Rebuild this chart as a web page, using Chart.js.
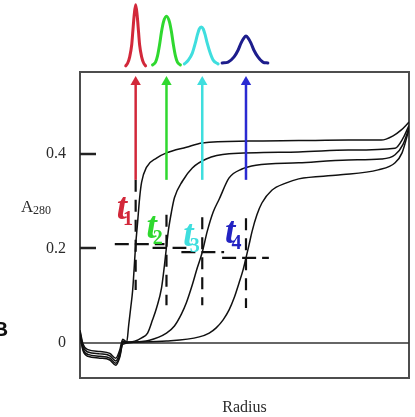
<!DOCTYPE html>
<html>
<head>
<meta charset="utf-8">
<script src="https://cdn.jsdelivr.net/npm/chart.js@4"></script>
<style>
body { margin: 0; background: #fff; }
#wrap { width: 415px; height: 417px; }
</style>
</head>
<body>
<div id="wrap"><canvas id="sedChart" width="415" height="417"></canvas></div>
<script>
// y axis tick labels (A280)
const yTicks = [0, 0.2, 0.4];

// boundary curves, radius in arbitrary units, absorbance A280
const radius1 = [0, 3, 8, 20, 30, 36, 40, 43, 47, 49, 51, 53, 56, 58, 60, 62, 67, 77, 87, 107, 123, 170, 220, 270, 303, 315, 323, 331];
const absorb1 = [0.027, -0.002, -0.014, -0.018, -0.022, -0.032, -0.015, 0.008, 0.002, 0.038, 0.074, 0.112, 0.207, 0.256, 0.307, 0.340, 0.372, 0.391, 0.402, 0.414, 0.423, 0.427, 0.428, 0.429, 0.429, 0.438, 0.450, 0.467];

const radius2 = [0, 3, 8, 20, 30, 36, 40, 43, 47, 55, 62, 68, 73, 77, 82, 85, 87, 89, 92, 95, 103, 113, 127, 150, 220, 270, 317, 325, 331];
const absorb2 = [0.024, -0.007, -0.019, -0.023, -0.027, -0.038, -0.021, 0.004, 0.002, 0.004, 0.011, 0.021, 0.049, 0.074, 0.116, 0.165, 0.203, 0.239, 0.277, 0.307, 0.342, 0.370, 0.389, 0.400, 0.404, 0.408, 0.412, 0.433, 0.460];

const radius3 = [0, 3, 8, 20, 30, 36, 40, 43, 50, 70, 87, 95, 102, 107, 113, 118, 123, 128, 134, 140, 150, 163, 177, 220, 270, 303, 317, 325, 331];
const absorb3 = [0.020, -0.012, -0.024, -0.028, -0.032, -0.043, -0.027, 0.000, 0.002, 0.006, 0.021, 0.036, 0.061, 0.085, 0.123, 0.159, 0.192, 0.236, 0.277, 0.304, 0.349, 0.368, 0.376, 0.381, 0.387, 0.389, 0.398, 0.420, 0.455];

const radius4 = [0, 3, 8, 20, 30, 36, 40, 43, 60, 87, 120, 130, 137, 144, 150, 155, 160, 164, 167, 170, 173, 178, 183, 193, 207, 220, 260, 300, 317, 324, 331];
const absorb4 = [0.016, -0.016, -0.028, -0.032, -0.036, -0.047, -0.030, -0.003, 0.002, 0.004, 0.013, 0.021, 0.032, 0.049, 0.070, 0.095, 0.127, 0.154, 0.180, 0.207, 0.235, 0.271, 0.296, 0.323, 0.338, 0.347, 0.355, 0.366, 0.381, 0.402, 0.452];

// sedimentation coefficient peaks drawn above the plot
const peakX1 = [46, 48, 50, 52, 53, 54.5, 56, 57.5, 59, 60, 62, 64, 66];
const peakY1 = [0.586, 0.592, 0.605, 0.630, 0.655, 0.693, 0.715, 0.693, 0.655, 0.630, 0.605, 0.592, 0.586];
const peakX2 = [73, 76, 78, 80, 82, 84, 87, 90, 92, 94, 96, 98, 101];
const peakY2 = [0.588, 0.594, 0.607, 0.630, 0.658, 0.679, 0.691, 0.679, 0.658, 0.630, 0.607, 0.594, 0.588];
const peakX3 = [105, 109, 113, 116, 118, 120, 122, 124, 126, 128, 131, 134, 139];
const peakY3 = [0.590, 0.598, 0.613, 0.634, 0.651, 0.664, 0.668, 0.664, 0.651, 0.634, 0.613, 0.598, 0.590];
const peakX4 = [143, 149, 155, 159, 162, 165, 167, 169, 172, 175, 179, 184, 189];
const peakY4 = [0.592, 0.594, 0.605, 0.619, 0.634, 0.645, 0.649, 0.645, 0.634, 0.619, 0.605, 0.594, 0.592];

// boundary midpoints t1..t4
const tNames = ['1', '2', '3', '4'];
const tRadius = [56, 87, 123, 167];
const tMidA = [0.209, 0.201, 0.192, 0.180];
const crossFrom = [35, 73, 102, 143];
const crossTo = [85, 107, 145, 190];
const dashTop = [0.345, 0.271, 0.266, 0.264];
const dashBottom = [0.112, 0.080, 0.080, 0.074];
const arrowFrom = 0.345;
const arrowTo = 0.552;

const tColors = ['#d2283a', '#2fd82f', '#3fdede', '#2a2ad2'];
const peakColors = ['#d2283a', '#2fd82f', '#3fdede', '#1d1d8c'];
const labelColors = ['#d2283a', '#2fd82f', '#3fdede', '#2323c2'];
// label anchors (radius, A280)
const labelX = [37, 67, 104, 146];
const labelY = [0.262, 0.222, 0.205, 0.211];

const pts = (xs, ys) => xs.map((v, i) => ({ x: v, y: ys[i] }));

let datasets = [];

datasets.push({
	data: [{ x: 0, y: 0 }, { x: 331, y: 0 }],
	borderColor: '#333', borderWidth: 1.5, pointRadius: 0, order: 4
});

[[radius1, absorb1], [radius2, absorb2], [radius3, absorb3], [radius4, absorb4]].forEach(([xs, ys]) => {
	datasets.push({
		data: pts(xs, ys),
		borderColor: '#111', borderWidth: 1.5, pointRadius: 0,
		cubicInterpolationMode: 'monotone', order: 3
	});
});

[[peakX1, peakY1], [peakX2, peakY2], [peakX3, peakY3], [peakX4, peakY4]].forEach(([xs, ys], i) => {
	datasets.push({
		data: pts(xs, ys),
		borderColor: peakColors[i], borderWidth: 3, pointRadius: 0,
		borderCapStyle: 'round', cubicInterpolationMode: 'monotone',
		clip: false, order: 1
	});
});

tRadius.forEach((r, i) => {
	// vertical dashed
	datasets.push({
		data: [{ x: r, y: dashTop[i] }, { x: r, y: dashBottom[i] }],
		borderColor: '#111', borderWidth: 2.2, borderDash: [12, 8], pointRadius: 0, order: 2
	});
	// horizontal dashed
	datasets.push({
		data: [{ x: crossFrom[i], y: tMidA[i] }, { x: crossTo[i], y: tMidA[i] }],
		borderColor: '#111', borderWidth: 2.2, borderDash: [14, 6], pointRadius: 0, order: 2
	});
	// arrow
	datasets.push({
		data: [{ x: r, y: arrowFrom }, { x: r, y: arrowTo }],
		borderColor: tColors[i], borderWidth: 2.5,
		pointRadius: [0, 6], pointStyle: 'triangle',
		pointBackgroundColor: tColors[i], pointBorderColor: tColors[i], pointBorderWidth: 0,
		clip: false, order: 0
	});
});

datasets.forEach((d) => { d.xAxisID = 'x'; d.yAxisID = 'y'; d.fill = false; });

const annotate = {
	id: 'annotate',
	afterDatasetsDraw(chart) {
		const { ctx, chartArea, scales: { x, y } } = chart;
		ctx.save();
		// inner tick marks
		ctx.strokeStyle = '#222';
		ctx.lineWidth = 2.5;
		yTicks.filter((v) => v !== 0).forEach((v) => {
			const py = Math.round(y.getPixelForValue(v));
			ctx.beginPath();
			ctx.moveTo(chartArea.left, py);
			ctx.lineTo(chartArea.left + 16, py);
			ctx.stroke();
		});
		// t labels
		ctx.textBaseline = 'alphabetic';
		tNames.forEach((n, i) => {
			const px = x.getPixelForValue(labelX[i]);
			const py = y.getPixelForValue(labelY[i]);
			ctx.fillStyle = labelColors[i];
			ctx.font = 'italic bold 37px "Liberation Serif"';
			ctx.fillText('t', px, py);
			const w = ctx.measureText('t').width;
			ctx.font = 'bold 20px "Liberation Serif"';
			ctx.fillText(n, px + w - 4, py + 6);
		});
		// y axis title A280
		ctx.fillStyle = '#2b2b2b';
		ctx.font = '17px "Liberation Serif"';
		ctx.fillText('A', 21, 212);
		ctx.font = '12px "Liberation Serif"';
		ctx.fillText('280', 33, 214);
		// cut-off panel letter
		ctx.fillStyle = '#111';
		ctx.font = 'bold 21px "Liberation Sans"';
		ctx.fillText('B', -7, 336);
		ctx.restore();
	}
};

const boxBorder = { display: true, color: '#4d4d4d', width: 2 };

new Chart(document.getElementById('sedChart').getContext('2d'), {
	type: 'line',
	data: { datasets: datasets },
	options: {
		responsive: false,
		devicePixelRatio: 1,
		animation: false,
		layout: { padding: 0 },
		plugins: { legend: { display: false }, tooltip: { enabled: false } },
		scales: {
			x: {
				type: 'linear', position: 'bottom', min: 0, max: 331,
				ticks: { display: false },
				grid: { display: false, drawTicks: false },
				border: boxBorder,
				title: {
					display: true, text: 'Radius', color: '#2b2b2b', padding: 0,
					font: { family: 'Liberation Serif', size: 16 }
				},
				afterFit: (s) => { s.height = 39; }
			},
			y: {
				type: 'linear', position: 'left', min: -0.074, max: 0.573,
				afterBuildTicks: (axis) => { axis.ticks = yTicks.map((v) => ({ value: v })); },
				ticks: {
					padding: 14, color: '#2b2b2b',
					font: { family: 'Liberation Serif', size: 16 },
					callback: (v) => (v === 0 ? '0' : v.toFixed(1))
				},
				grid: { display: false, drawTicks: false },
				border: boxBorder,
				afterFit: (s) => { s.width = 80; }
			},
			xTop: {
				type: 'linear', position: 'top', axis: 'x',
				ticks: { display: false },
				grid: { display: false, drawTicks: false },
				border: boxBorder,
				afterFit: (s) => { s.height = 72; }
			},
			yRight: {
				type: 'linear', position: 'right', axis: 'y',
				ticks: { display: false },
				grid: { display: false, drawTicks: false },
				border: boxBorder,
				afterFit: (s) => { s.width = 4; }
			}
		}
	},
	plugins: [annotate]
});
</script>
</body>
</html>
